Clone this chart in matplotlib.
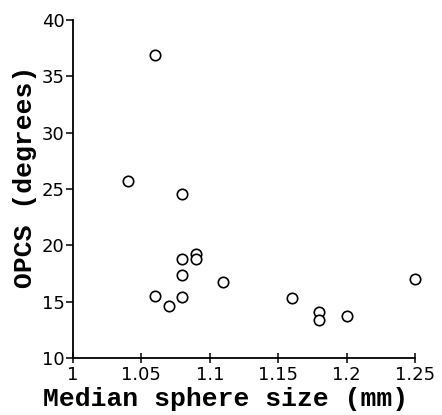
import matplotlib
matplotlib.use("Agg")
import matplotlib.pyplot as plt

# Median sphere size (mm) vs OPCS (degrees)
size_mm = [1.06, 1.04, 1.08, 1.08, 1.09, 1.09, 1.08, 1.11, 1.06, 1.07,
           1.08, 1.16, 1.18, 1.18, 1.20, 1.25]
opcs_deg = [36.9, 25.75, 24.6, 18.8, 19.2, 18.8, 17.35, 16.75, 15.5, 14.6,
            15.45, 15.35, 14.1, 13.4, 13.75, 17.05]

xticks = [1, 1.05, 1.1, 1.15, 1.2, 1.25]
xticklabels = ["1", "1.05", "1.1", "1.15", "1.2", "1.25"]
yticks = [10, 15, 20, 25, 30, 35, 40]

fig = plt.figure(figsize=(4.42, 4.15), dpi=100)
ax = fig.add_axes([0.165, 0.137, 0.774, 0.815])

ax.plot(size_mm, opcs_deg, "o", mfc="white", mec="black", mew=1.2, ms=7.5,
        linestyle="none", clip_on=False)

ax.set_xlim(1, 1.25)
ax.set_ylim(10, 40)
ax.set_xticks(xticks)
ax.set_xticklabels(xticklabels)
ax.set_yticks(yticks)

for s in ["top", "right"]:
    ax.spines[s].set_visible(False)
for s in ["left", "bottom"]:
    ax.spines[s].set_linewidth(1.3)

ax.tick_params(axis="x", direction="inout", length=7, width=1.1, labelsize=13, pad=2)
ax.tick_params(axis="y", direction="out", length=5, width=1.1, labelsize=13, pad=1)

ax.set_xlabel("Median sphere size (mm)", fontsize=19, family="Liberation Mono",
              fontweight="bold")
ax.set_ylabel("OPCS (degrees)", fontsize=19, family="Liberation Mono",
              fontweight="bold")
# labels sit a bit off-centre in the original
ax.xaxis.set_label_coords(0.445, -0.085)
ax.yaxis.set_label_coords(-0.105, 0.535)

fig.savefig("out.png", dpi=100, facecolor="white")
